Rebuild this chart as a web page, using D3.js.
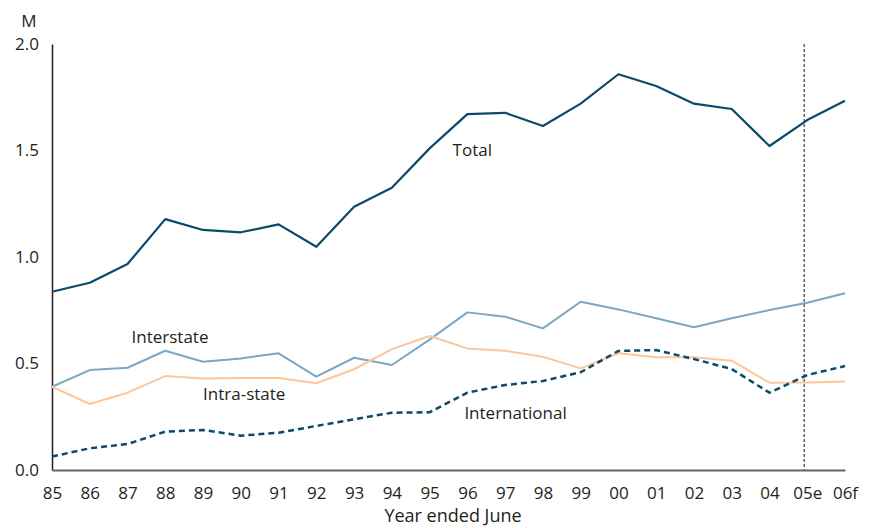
<!DOCTYPE html>
<html>
<head>
	<meta charset="utf-8" />
	<title>Passengers</title>
	<script src="https://cdn.jsdelivr.net/npm/d3@7"></script>
	<style>
		body { margin: 0; background: #fff; }
		text { font-family: "Open Sans", "Noto Sans", sans-serif; fill: #231f20; }
	</style>
</head>
<body>
<script>

var years = ["85","86","87","88","89","90","91","92","93","94","95","96","97","98","99","00","01","02","03","04","05e","06f"];
var total = [0.837,0.879,0.967,1.178,1.127,1.116,1.153,1.048,1.236,1.325,1.51,1.671,1.677,1.615,1.72,1.858,1.803,1.72,1.695,1.521,1.643,1.734];
var interstate = [0.391,0.469,0.48,0.56,0.508,0.524,0.548,0.438,0.527,0.493,0.612,0.74,0.72,0.665,0.79,0.754,0.712,0.67,0.712,0.751,0.785,0.83];
var intrastate = [0.391,0.31,0.363,0.441,0.43,0.432,0.432,0.407,0.473,0.567,0.629,0.571,0.56,0.532,0.477,0.548,0.529,0.529,0.513,0.41,0.411,0.416];
var international = [0.063,0.102,0.122,0.18,0.188,0.161,0.175,0.207,0.238,0.269,0.271,0.363,0.399,0.418,0.459,0.559,0.563,0.521,0.474,0.363,0.446,0.488];
var yTicks = [0, 0.5, 1, 1.5, 2];

var width = 871, height = 528;
var plotLeft = 52, plotRight = 845, plotTop = 44, plotBottom = 470;
var fontSize = "17px";

var svg = d3.select("body").append("svg")
	.attr("width", width)
	.attr("height", height);

var x = d3.scalePoint().domain(years).range([plotLeft, plotRight]);
var y = d3.scaleLinear().domain([0, 2]).range([plotBottom, plotTop]);

// y axis
var yAxis = svg.append("g")
	.attr("transform", "translate(" + plotLeft + ",0)")
	.call(d3.axisLeft(y).tickValues(yTicks).tickFormat(d3.format(".1f")).tickSize(0).tickPadding(13));
yAxis.select(".domain").attr("stroke", "#231f20").attr("stroke-width", 1.5);
yAxis.selectAll("text").attr("font-size", fontSize).style("font-family", "'Open Sans', sans-serif").attr("fill", "#231f20");

svg.append("text")
	.attr("x", 29)
	.attr("y", 27)
	.attr("text-anchor", "middle")
	.attr("font-size", fontSize)
	.text("M");

// x axis
var xAxis = svg.append("g")
	.attr("transform", "translate(0," + plotBottom + ")")
	.call(d3.axisBottom(x).tickSize(0).tickPadding(17));
xAxis.select(".domain").attr("stroke", "#666").attr("stroke-width", 2);
xAxis.selectAll("text").attr("font-size", fontSize).style("font-family", "'Open Sans', sans-serif").attr("fill", "#231f20");

svg.append("text")
	.attr("x", 453)
	.attr("y", 522)
	.attr("text-anchor", "middle")
	.attr("font-size", "18px")
	.text("Year ended June");

// forecast divider
svg.append("line")
	.attr("x1", x("05e") - 3)
	.attr("x2", x("05e") - 3)
	.attr("y1", y(2))
	.attr("y2", plotBottom)
	.attr("stroke", "#666")
	.attr("stroke-width", 1.5)
	.attr("stroke-dasharray", "3,2");

var line = d3.line()
	.x(function(d, i){ return x(years[i]); })
	.y(function(d){ return y(d); });

var series = [
	{ name: "Interstate", values: interstate, color: "#7ba7c3", dash: null, w: 2 },
	{ name: "Intra-state", values: intrastate, color: "#fdc79b", dash: null, w: 2 },
	{ name: "International", values: international, color: "#0b4a6a", dash: "6,4", w: 2.5 },
	{ name: "Total", values: total, color: "#0b4a6a", dash: null, w: 2.2 }
];

svg.selectAll("path.series")
	.data(series)
	.enter()
	.append("path")
	.attr("class", "series")
	.attr("fill", "none")
	.attr("stroke", function(d){ return d.color; })
	.attr("stroke-width", function(d){ return d.w; })
	.attr("stroke-dasharray", function(d){ return d.dash; })
	.attr("stroke-linejoin", "round")
	.attr("d", function(d){ return line(d.values); });

var labels = [
	{ text: "Total", year: "95", value: 1.5, dx: 23, dy: 5 },
	{ text: "Interstate", year: "87", value: 0.62, dx: 4, dy: 5 },
	{ text: "Intra-state", year: "89", value: 0.35, dx: 0, dy: 5 },
	{ text: "International", year: "96", value: 0.26, dx: -3, dy: 4 }
];

svg.selectAll("text.label")
	.data(labels)
	.enter()
	.append("text")
	.attr("class", "label")
	.attr("font-size", fontSize)
	.attr("x", function(d){ return x(d.year) + d.dx; })
	.attr("y", function(d){ return y(d.value) + d.dy; })
	.text(function(d){ return d.text; });

</script>
</body>
</html>
